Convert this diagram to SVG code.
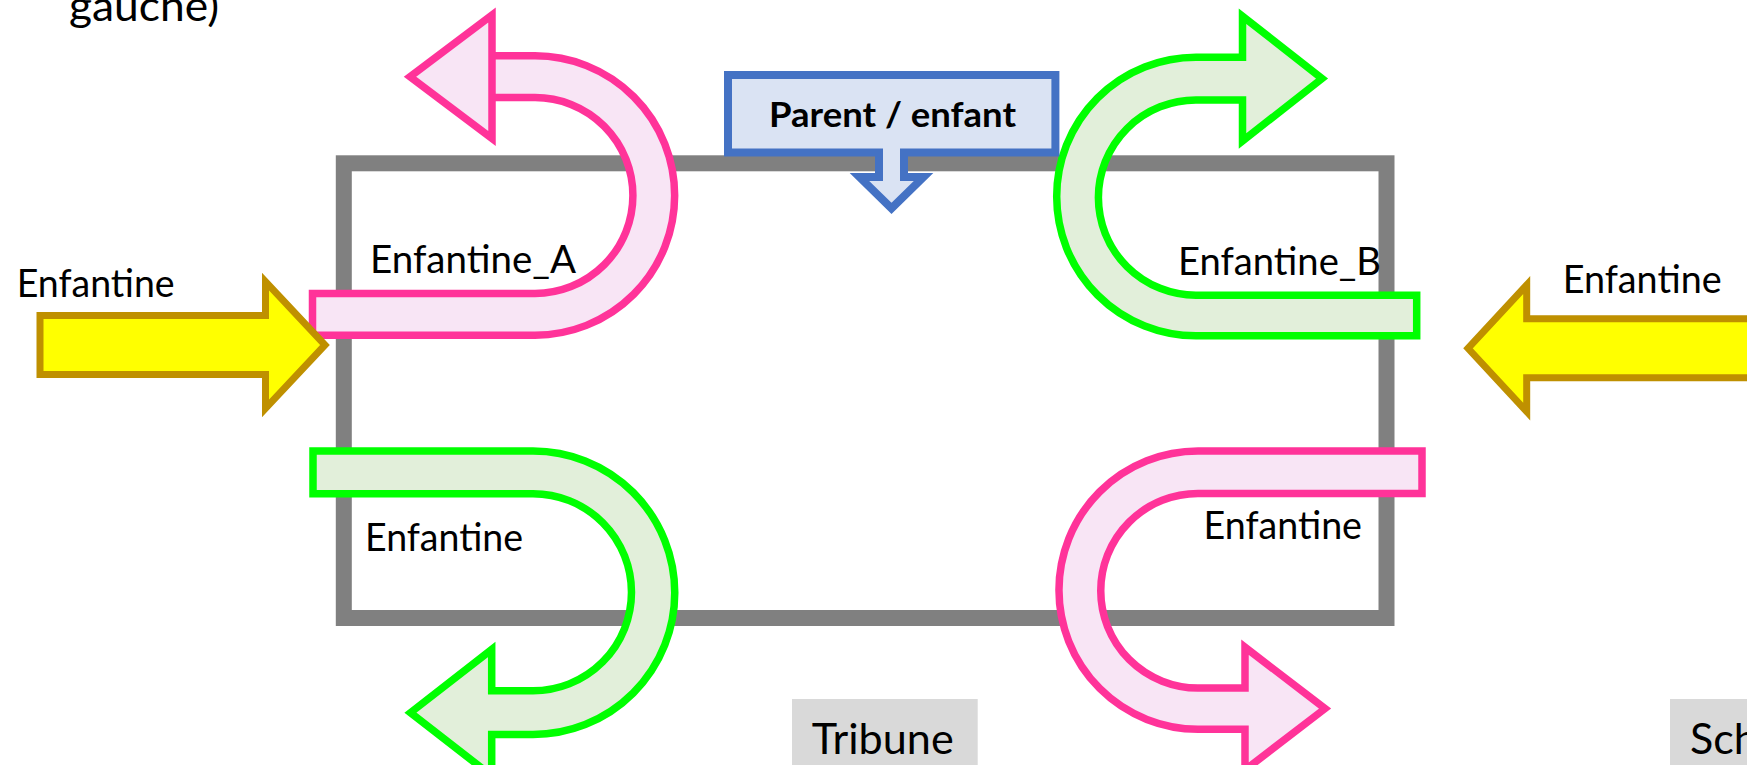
<svg xmlns="http://www.w3.org/2000/svg" width="1747" height="765" viewBox="0 0 1747 765">
<style>
  .lbl { font-family: Lato, "Liberation Sans", sans-serif; font-size: 38px; fill: #000; }
  .big { font-family: Lato, "Liberation Sans", sans-serif; font-size: 43px; fill: #000; }
  .bold { font-family: Lato, "Liberation Sans", sans-serif; font-size: 34px; font-weight: bold; fill: #000; }
  .pink { fill: #f8e5f5; stroke: #ff3399; stroke-width: 7.5; stroke-linejoin: miter; }
  .green { fill: #e2efda; stroke: #00ff00; stroke-width: 7.5; stroke-linejoin: miter; }
  .yellow { fill: #ffff00; stroke: #bf9000; stroke-width: 7; stroke-linejoin: miter; }
  .callout { fill: #dae3f3; stroke: #4472c4; stroke-width: 8; stroke-linejoin: miter; }
  .tag { fill: #d9d9d9; }
</style>
<rect width="1747" height="765" fill="#ffffff"/>
<g id="frame">
  <rect x="343.8" y="163.3" width="1042.7" height="454.7" fill="none" stroke="#808080" stroke-width="16"/>
</g>
<g id="connectors">
  <path id="enfantine-a" class="pink" d="M312.5,293.4 H535 A97.9,97.9 0 0 0 535,97.6 H492 V15 L410,76.7 L492,138.4 V55.8 H535 A139.7,139.7 0 0 1 535,335.2 H312.5 Z"/>
  <path id="enfantine-b" class="green" d="M1416.7,295.2 H1196 A97.6,97.6 0 0 1 1196,100 H1242.5 V141 L1322,78.6 L1242.5,16.2 V57.2 H1196 A139.3,139.3 0 0 0 1196,335.8 H1416.7 Z"/>
  <path id="enfantine-c" class="green" d="M313,451 H533 A141.75,141.75 0 0 1 533,734.5 H491.7 V775.8 L410.5,712.65 L491.7,649.5 V690.8 H533 A98.55,98.55 0 0 0 533,493.7 H313 Z"/>
  <path id="enfantine-d" class="pink" d="M1422,451 H1198 A139.1,139.1 0 0 0 1198,729.2 H1245 V770 L1325,708.6 L1245,647.2 V688 H1198 A97.25,97.25 0 0 1 1198,493.5 H1422 Z"/>
  <path id="in-left" class="yellow" d="M40,315.5 H265.5 V281.7 L325,345 L265.5,408.3 V374.5 H40 Z"/>
  <path id="in-right" class="yellow" d="M1760,318.8 H1526.7 V285 L1468,348.3 L1526.7,411.6 V377.8 H1760 Z"/>
</g>
<g id="parent-enfant">
  <path class="callout" d="M728,75 H1055.4 V152.5 H904 V177 H923.5 L891.5,208.3 L859.5,177 H879 V152.5 H728 Z"/>
  <text class="bold" x="769" y="126.7" textLength="247" lengthAdjust="spacingAndGlyphs">Parent / enfant</text>
</g>
<g id="tribune">
  <rect class="tag" x="792" y="699" width="185.7" height="70"/>
  <text class="big" x="811.7" y="754" textLength="142" lengthAdjust="spacingAndGlyphs">Tribune</text>
</g>
<g id="sch">
  <rect class="tag" x="1670" y="699" width="90" height="70"/>
  <text class="big" x="1690" y="754">Sch</text>
</g>
<g id="labels">
  <text class="big" x="69" y="21" textLength="150" lengthAdjust="spacingAndGlyphs">gauche)</text>
  <text class="lbl" x="16.7" y="296.7" textLength="158" lengthAdjust="spacingAndGlyphs">Enfantine</text>
  <text class="lbl" x="370" y="272.7" textLength="206" lengthAdjust="spacingAndGlyphs">Enfantine_A</text>
  <text class="lbl" x="1178" y="275" textLength="203" lengthAdjust="spacingAndGlyphs">Enfantine_B</text>
  <text class="lbl" x="1562.7" y="293.3" textLength="159" lengthAdjust="spacingAndGlyphs">Enfantine</text>
  <text class="lbl" x="365" y="550.7" textLength="158" lengthAdjust="spacingAndGlyphs">Enfantine</text>
  <text class="lbl" x="1203.6" y="539.3" textLength="158.4" lengthAdjust="spacingAndGlyphs">Enfantine</text>
</g>
</svg>
